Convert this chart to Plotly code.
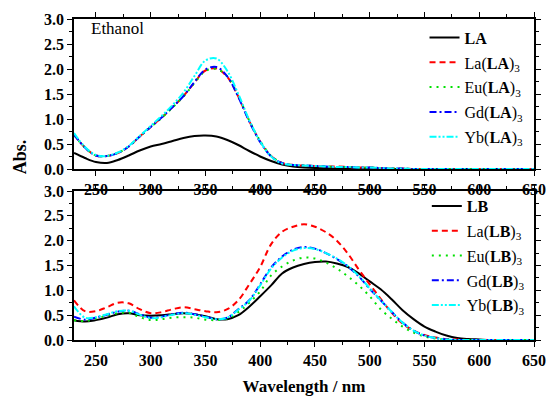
import plotly.graph_objects as go

# Wavelength grid (nm)
wavelength = list(range(230, 660, 10))

# --- Ethanol, ligand LA and its complexes ---
abs_LA = [0.32, 0.22, 0.14, 0.12, 0.18, 0.27, 0.37, 0.45, 0.50, 0.56, 0.62, 0.66, 0.67, 0.65,
          0.58, 0.48, 0.36, 0.25, 0.16, 0.09, 0.05, 0.03, 0.02, 0.02, 0.01, 0.01, 0.01, 0.01,
          0, 0, 0, 0, 0, 0, 0, 0, 0, 0, 0, 0, 0, 0, 0]
abs_La_LA = [0.69, 0.43, 0.27, 0.26, 0.32, 0.45, 0.65, 0.84, 1.03, 1.24, 1.46, 1.73, 1.97, 2.01,
             1.84, 1.45, 0.96, 0.55, 0.26, 0.12, 0.08, 0.07, 0.06, 0.05, 0.05, 0.04, 0.03, 0.03,
             0.02, 0.01, 0.01, 0, 0, 0, 0, 0, 0, 0, 0, 0, 0, 0, 0]
abs_Eu_LA = [0.68, 0.43, 0.27, 0.26, 0.32, 0.45, 0.65, 0.84, 1.02, 1.23, 1.45, 1.72, 1.96, 2.00,
             1.85, 1.46, 0.97, 0.56, 0.26, 0.12, 0.08, 0.07, 0.06, 0.05, 0.04, 0.04, 0.03, 0.03,
             0.02, 0.01, 0.01, 0, 0, 0, 0, 0, 0, 0, 0, 0, 0, 0, 0]
abs_Gd_LA = [0.69, 0.43, 0.27, 0.26, 0.32, 0.45, 0.65, 0.84, 1.03, 1.24, 1.46, 1.74, 1.99, 2.04,
             1.85, 1.44, 0.95, 0.54, 0.25, 0.12, 0.08, 0.07, 0.06, 0.05, 0.04, 0.04, 0.03, 0.03,
             0.02, 0.01, 0.01, 0, 0, 0, 0, 0, 0, 0, 0, 0, 0, 0, 0]
abs_Yb_LA = [0.72, 0.44, 0.28, 0.26, 0.33, 0.46, 0.66, 0.86, 1.06, 1.28, 1.53, 1.86, 2.17, 2.21,
             1.96, 1.50, 0.98, 0.55, 0.25, 0.11, 0.08, 0.07, 0.06, 0.05, 0.04, 0.04, 0.03, 0.03,
             0.02, 0.01, 0.01, 0, 0, 0, 0, 0, 0, 0, 0, 0, 0, 0, 0]

# --- ligand LB and its complexes ---
abs_LB = [0.40, 0.37, 0.40, 0.45, 0.52, 0.54, 0.50, 0.49, 0.50, 0.52, 0.54, 0.52, 0.48, 0.42,
          0.42, 0.50, 0.67, 0.88, 1.10, 1.34, 1.46, 1.53, 1.57, 1.58, 1.54, 1.47, 1.34, 1.18,
          1.02, 0.82, 0.60, 0.42, 0.27, 0.17, 0.09, 0.04, 0.02, 0.01, 0, 0, 0, 0, 0]
abs_La_LB = [0.80, 0.58, 0.58, 0.66, 0.75, 0.74, 0.62, 0.54, 0.56, 0.62, 0.66, 0.62, 0.58, 0.56,
             0.62, 0.80, 1.12, 1.47, 1.93, 2.18, 2.28, 2.33, 2.28, 2.17, 2.00, 1.74, 1.42, 1.12,
             0.83, 0.55, 0.33, 0.19, 0.10, 0.05, 0.02, 0.01, 0, 0, 0, 0, 0, 0, 0]
abs_Eu_LB = [0.40, 0.38, 0.43, 0.49, 0.54, 0.55, 0.46, 0.40, 0.42, 0.45, 0.46, 0.45, 0.41, 0.40,
             0.43, 0.56, 0.75, 0.98, 1.30, 1.48, 1.60, 1.66, 1.64, 1.56, 1.44, 1.28, 1.10, 0.88,
             0.62, 0.43, 0.27, 0.15, 0.07, 0.03, 0.01, 0, 0, 0, 0, 0, 0, 0, 0]
abs_Gd_LB = [0.47, 0.41, 0.45, 0.51, 0.57, 0.59, 0.52, 0.45, 0.47, 0.52, 0.55, 0.52, 0.47, 0.42,
             0.45, 0.62, 0.80, 1.12, 1.46, 1.68, 1.82, 1.87, 1.84, 1.75, 1.63, 1.48, 1.28, 1.03,
             0.80, 0.57, 0.35, 0.19, 0.09, 0.04, 0.01, 0, 0, 0, 0, 0, 0, 0, 0]
abs_Yb_LB = [0.68, 0.45, 0.46, 0.52, 0.58, 0.59, 0.51, 0.44, 0.46, 0.51, 0.54, 0.51, 0.46, 0.42,
             0.45, 0.61, 0.79, 1.10, 1.44, 1.66, 1.80, 1.85, 1.83, 1.75, 1.64, 1.49, 1.29, 1.04,
             0.80, 0.57, 0.35, 0.19, 0.09, 0.04, 0.01, 0, 0, 0, 0, 0, 0, 0, 0]

names_A = ["<b>LA</b>", "La(<b>LA</b>)<sub>3</sub>", "Eu(<b>LA</b>)<sub>3</sub>",
           "Gd(<b>LA</b>)<sub>3</sub>", "Yb(<b>LA</b>)<sub>3</sub>"]
names_B = ["<b>LB</b>", "La(<b>LB</b>)<sub>3</sub>", "Eu(<b>LB</b>)<sub>3</sub>",
           "Gd(<b>LB</b>)<sub>3</sub>", "Yb(<b>LB</b>)<sub>3</sub>"]

colors = ["#000000", "#FF0000", "#00E000", "#0000FF", "#00FFFF"]
dashes = ["solid", "6px,4px", "2px,5px", "7px,3px,2px,3px", "7px,2px,2px,2px,2px,2px"]

FONT = "'Liberation Serif', 'Times New Roman', serif"

fig = go.Figure()

series_A = [abs_LA, abs_La_LA, abs_Eu_LA, abs_Gd_LA, abs_Yb_LA]
series_B = [abs_LB, abs_La_LB, abs_Eu_LB, abs_Gd_LB, abs_Yb_LB]

for i, (name, ys) in enumerate(zip(names_A, series_A)):
    fig.add_trace(go.Scatter(
        x=wavelength, y=ys, name=name, mode="lines", line_shape="spline",
        line=dict(color=colors[i], width=2, dash=dashes[i]),
        xaxis="x", yaxis="y", legend="legend", legendgroup="a%d" % i))

for i, (name, ys) in enumerate(zip(names_B, series_B)):
    fig.add_trace(go.Scatter(
        x=wavelength, y=ys, name=name, mode="lines", line_shape="spline",
        line=dict(color=colors[i], width=2, dash=dashes[i]),
        xaxis="x2", yaxis="y2", legend="legend2", legendgroup="b%d" % i))

axis_common = dict(
    showline=True, linecolor="black", linewidth=1.5, mirror="allticks",
    ticks="outside", ticklen=5, tickwidth=1.3, tickcolor="black",
    showgrid=False, zeroline=False, automargin=False,
    tickfont=dict(family=FONT, size=16, color="black", weight="bold"),
)
xaxis_common = dict(axis_common, range=[230, 650], tickvals=list(range(250, 700, 50)),
                    minor=dict(ticks="outside", ticklen=3, tickwidth=1, tickcolor="black",
                               tickvals=list(range(275, 650, 50))))
yaxis_common = dict(axis_common, range=[0, 3], dtick=0.5, tickformat=".1f",
                    minor=dict(ticks="outside", ticklen=3, tickwidth=1, tickcolor="black", dtick=0.25))

H = 396
top_px, bottom_px = 19, 56
plot_h = H - top_px - bottom_px

def frac(py):
    return (H - bottom_px - py) / plot_h

legend_common = dict(
    font=dict(family=FONT, size=16, color="black"),
    bgcolor="rgba(0,0,0,0)", borderwidth=0, xanchor="left", yanchor="top",
    tracegroupgap=1, itemwidth=30,
)

fig.update_layout(
    width=547, height=396,
    margin=dict(l=74, r=13, t=top_px, b=bottom_px, autoexpand=False),
    paper_bgcolor="white", plot_bgcolor="white",
    xaxis=dict(xaxis_common, domain=[0, 1], anchor="y"),
    yaxis=dict(yaxis_common, domain=[frac(169), 1], anchor="x"),
    xaxis2=dict(xaxis_common, domain=[0, 1], anchor="y2",
                title=dict(text="<b>Wavelength / nm</b>", standoff=14,
                           font=dict(family=FONT, size=17, color="black"))),
    yaxis2=dict(yaxis_common, domain=[0, frac(191)], anchor="x2"),
    legend=dict(legend_common, x=0.762, y=0.995),
    legend2=dict(legend_common, x=0.767, y=frac(189)),
    showlegend=True,
    annotations=[
        dict(text="Ethanol", x=244, y=2.82, xref="x", yref="y", xanchor="left", yanchor="middle",
             showarrow=False, font=dict(family=FONT, size=17, color="black")),
        dict(text="<b>Abs.</b>", x=-0.117, y=frac(157), xref="paper", yref="paper",
             xanchor="center", yanchor="middle", textangle=-90,
             showarrow=False, font=dict(family=FONT, size=18, color="black")),
    ],
)

fig.write_html("out.html")
